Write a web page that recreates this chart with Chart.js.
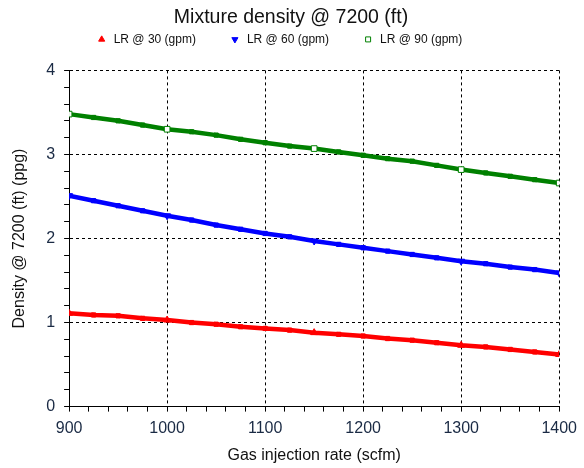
<!DOCTYPE html>
<html>
<head>
    <script src="https://cdn.jsdelivr.net/npm/chart.js"></script>
    <style>
        body {
            margin: 0;
            background: white;
            font-family: "Liberation Sans", Arial, sans-serif;
        }
        .wrap {
            width: 584px;
            height: 468px;
        }
    </style>
</head>
<body>
    <div class="wrap">
        <canvas id="densityChart" width="584" height="468"></canvas>
    </div>

    <script>
        let gasRate = [900, 925, 950, 975, 1000, 1025, 1050, 1075, 1100, 1125, 1150,
                       1175, 1200, 1225, 1250, 1275, 1300, 1325, 1350, 1375, 1400];

        let lr30 = [1.11, 1.09, 1.08, 1.05, 1.03, 1.00, 0.98, 0.95, 0.93, 0.91, 0.88,
                    0.86, 0.84, 0.81, 0.79, 0.76, 0.73, 0.71, 0.68, 0.65, 0.62];
        let lr60 = [2.51, 2.45, 2.39, 2.33, 2.27, 2.22, 2.16, 2.11, 2.06, 2.02, 1.97,
                    1.93, 1.89, 1.85, 1.81, 1.77, 1.73, 1.70, 1.66, 1.63, 1.59];
        let lr90 = [3.48, 3.44, 3.40, 3.35, 3.30, 3.27, 3.23, 3.18, 3.14, 3.10, 3.07,
                    3.03, 2.99, 2.95, 2.92, 2.87, 2.82, 2.78, 2.74, 2.70, 2.66];

        let seriesNames = ['LR @ 30 (gpm)', 'LR @ 60 (gpm)', 'LR @ 90 (gpm)'];
        // points that carry the series symbol instead of the plain filled square
        let markIdx = [0, 4, 10, 16, 20];

        function pts(ys) {
            return gasRate.map((x, i) => ({ x: x, y: ys[i] }));
        }

        function makeSet(label, ys, color, style, rot, hollow) {
            return {
                label: label,
                data: pts(ys),
                borderColor: color,
                borderWidth: 4.5,
                pointStyle: ctx => markIdx.includes(ctx.dataIndex) ? style : 'rect',
                rotation: ctx => markIdx.includes(ctx.dataIndex) ? rot : 0,
                pointRadius: ctx => markIdx.includes(ctx.dataIndex) ? 4 : 3,
                pointBorderWidth: 1,
                pointBackgroundColor: ctx => (hollow && markIdx.includes(ctx.dataIndex)) ? 'white' : color,
                pointBorderColor: color,
                tension: 0
            };
        }

        let isMajor = (v, step) => Math.abs(v / step - Math.round(v / step)) < 1e-6;

        // nudge the legend up and left after layout, plot area stays put
        let legendNudge = {
            id: 'legendNudge',
            afterLayout(chart) {
                let lg = chart.legend;
                lg.top -= 15; lg.bottom -= 15;
                lg.left -= 12; lg.right -= 12;
            }
        };

        let chart = new Chart(document.getElementById('densityChart').getContext('2d'), {
            type: 'line',
            data: {
                datasets: [
                    makeSet(seriesNames[0], lr30, '#ff0000', 'triangle', 0, false),
                    makeSet(seriesNames[1], lr60, '#0000ff', 'triangle', 180, false),
                    makeSet(seriesNames[2], lr90, '#008000', 'rect', 0, true)
                ]
            },
            plugins: [legendNudge],
            options: {
                responsive: false,
                animation: false,
                layout: { padding: { left: 10, right: 12, top: 1, bottom: 3 } },
                plugins: {
                    title: {
                        display: true,
                        text: 'Mixture density @ 7200 (ft)',
                        color: '#111',
                        font: { family: 'Liberation Sans', size: 19.5, weight: 'normal' },
                        padding: { top: 5, bottom: -14 }
                    },
                    legend: {
                        position: 'top',
                        labels: {
                            usePointStyle: true,
                            boxHeight: 5,
                            boxWidth: 12,
                            padding: 33,
                            color: '#111',
                            font: { family: 'Liberation Sans', size: 12 }
                        }
                    },
                    tooltip: { enabled: false }
                },
                scales: {
                    x: {
                        type: 'linear',
                        min: 900,
                        max: 1400,
                        title: {
                            display: true,
                            text: 'Gas injection rate (scfm)',
                            color: '#111',
                            font: { family: 'Liberation Sans', size: 16 },
                            padding: { top: 1, bottom: 0 }
                        },
                        ticks: {
                            stepSize: 20,
                            autoSkip: false,
                            maxRotation: 0,
                            padding: 7,
                            color: '#1a2a44',
                            font: { family: 'Liberation Sans', size: 16 },
                            callback: v => isMajor(v, 100) ? v : ''
                        },
                        grid: {
                            color: ctx => (ctx.tick && isMajor(ctx.tick.value, 100)) ? '#000' : 'transparent',
                            tickColor: '#000',
                            tickLength: 5,
                            lineWidth: 1
                        },
                        border: { display: true, color: '#000', width: 1, dash: [3, 3] }
                    },
                    y: {
                        type: 'linear',
                        min: 0,
                        max: 4,
                        title: {
                            display: true,
                            text: 'Density @ 7200 (ft) (ppg)',
                            color: '#111',
                            font: { family: 'Liberation Sans', size: 16 },
                            padding: { top: 0, bottom: 8 }
                        },
                        ticks: {
                            stepSize: 0.2,
                            autoSkip: false,
                            padding: 9,
                            color: '#1a2a44',
                            font: { family: 'Liberation Sans', size: 16 },
                            callback: v => isMajor(v, 1) ? Math.round(v) : ''
                        },
                        grid: {
                            color: ctx => (ctx.tick && isMajor(ctx.tick.value, 1)) ? '#000' : 'transparent',
                            tickColor: '#000',
                            tickLength: 5,
                            lineWidth: 1
                        },
                        border: { display: true, color: '#000', width: 1, dash: [3, 3] }
                    }
                }
            }
        });
    </script>
</body>
</html>
